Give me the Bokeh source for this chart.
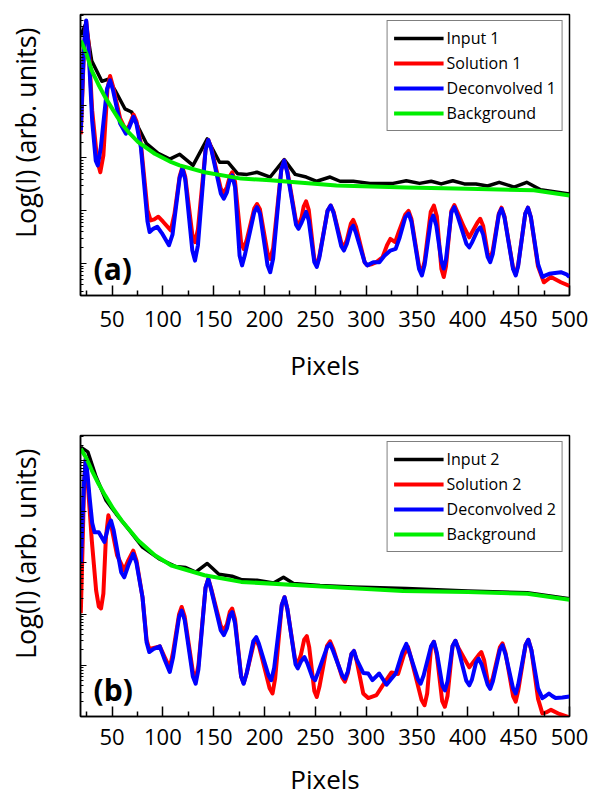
from bokeh.plotting import figure
from bokeh.layouts import column
from bokeh.models import (Range1d, FixedTicker, Label, Legend, LegendItem, Title,
                          CustomJSTickFormatter)
from bokeh.embed import file_html
from bokeh.resources import INLINE

FONT = "Open Sans"

# ---------------- axis ticks ----------------
x_major_ticks = [50, 100, 150, 200, 250, 300, 350, 400, 450, 500]
x_minor_ticks = [25, 75, 125, 175, 225, 275, 325, 375, 425, 475]
x_limits = (19, 500)

# ---------------- panel (a): log10 of intensity ----------------
input1_x = [19.3, 24.2, 30.0, 40.0, 46.4, 53.0, 62.7, 69.3, 75.8, 84.0, 95.4, 106.8, 116.6,
            129.7, 143.7, 155.8, 164.0, 173.7, 182.8, 192.6, 205.6, 219.4, 230.2, 241.0,
            251.4, 264.5, 274.3, 287.3, 303.6, 326.5, 339.5, 352.5, 364.0, 373.8, 385.2,
            396.6, 408.0, 419.4, 430.8, 445.5, 457.9, 471.6, 500.0]
input1_log = [5.32, 5.54, 4.84, 4.45, 4.49, 4.28, 3.93, 3.87, 3.58, 3.27, 3.09, 2.98, 3.07,
              2.86, 3.36, 2.92, 2.92, 2.70, 2.69, 2.73, 2.64, 2.97, 2.69, 2.64,
              2.56, 2.64, 2.56, 2.56, 2.52, 2.52, 2.57, 2.52, 2.56, 2.51, 2.57,
              2.51, 2.51, 2.47, 2.54, 2.45, 2.54, 2.40, 2.32]

solution1_x = [19.3, 21.0, 22.5, 24.6, 26.8, 30.5, 35.5, 38.5, 41.5, 45.5, 48.1, 51.0, 58.0,
               63.7, 67.0, 71.2, 74.0, 78.4, 84.9, 88.0, 91.5, 95.5, 100.0, 107.8, 111.5,
               116.5, 119.2, 122.0, 129.0, 131.6, 134.5, 142.0, 144.7, 147.5, 157.0, 160.0,
               163.0, 166.0, 168.2, 171.0, 177.0, 179.5, 182.5, 190.0, 192.6, 195.5, 203.0,
               205.6, 208.5, 216.5, 219.4, 222.5, 231.0, 233.4, 236.5, 238.5, 240.9, 243.5,
               249.0, 251.4, 254.0, 262.0, 265.1, 268.0, 275.5, 278.1, 281.0, 285.0, 287.3,
               290.0, 298.5, 301.0, 305.0, 310.0, 316.0, 320.5, 323.8, 328.5, 332.0, 338.5,
               341.7, 344.5, 352.0, 354.8, 357.5, 363.5, 366.6, 369.5, 374.0, 376.3, 378.5,
               383.8, 386.7, 390.0, 396.0, 401.4, 409.5, 412.2, 415.0, 419.5, 422.0, 424.5,
               430.5, 433.1, 436.0, 444.5, 447.1, 449.5, 456.5, 459.2, 462.0, 469.0, 474.8,
               481.8, 491.5, 500.0]
solution1_log = [3.45, 4.30, 5.10, 5.58, 5.20, 3.90, 2.95, 2.73, 3.05, 4.30, 4.55, 4.35, 3.75,
                 3.52, 3.62, 3.82, 3.70, 3.27, 2.01, 1.82, 1.84, 1.89, 1.80, 1.63, 1.95,
                 2.65, 2.83, 2.65, 1.55, 1.41, 1.65, 3.15, 3.34, 3.20, 2.42, 2.33,
                 2.45, 2.66, 2.73, 2.55, 1.40, 1.28, 1.45, 2.05, 2.13, 2.03, 1.20,
                 1.09, 1.30, 2.78, 2.95, 2.75, 1.80, 1.72, 1.88, 2.08, 2.18, 2.02,
                 1.08, 0.97, 1.15, 2.00, 2.10, 1.98, 1.40, 1.31, 1.45, 1.76, 1.83,
                 1.70, 1.03, 0.97, 0.99, 1.03, 1.12, 1.35, 1.47, 1.41, 1.60, 1.93,
                 2.00, 1.85, 0.95, 0.84, 1.05, 1.98, 2.10, 1.90, 0.90, 0.75, 0.95,
                 2.00, 2.11, 1.97, 1.70, 1.50, 1.78, 1.85, 1.72, 1.20, 1.09, 1.25,
                 1.95, 2.06, 1.90, 0.92, 0.80, 0.98, 1.95, 2.06, 1.88, 0.95, 0.65,
                 0.75, 0.65, 0.58]

deconv1_x = [19.3, 21.0, 22.5, 24.6, 26.8, 30.5, 34.0, 36.0, 39.0, 45.0, 48.1, 51.0, 58.0,
             63.7, 67.0, 71.2, 74.0, 78.4, 84.9, 87.0, 90.5, 94.5, 99.0, 106.0, 109.5,
             116.5, 119.2, 122.0, 129.0, 131.6, 134.5, 142.0, 144.7, 147.5, 157.0, 160.0,
             163.0, 166.0, 168.2, 171.0, 175.5, 177.9, 180.5, 190.0, 192.6, 195.5, 203.0,
             205.6, 208.5, 216.5, 219.4, 222.5, 231.0, 233.4, 236.5, 240.9, 243.5, 249.0,
             251.4, 254.0, 262.0, 265.1, 268.0, 275.5, 278.1, 281.0, 285.0, 287.3, 290.0,
             298.5, 301.0, 307.0, 313.0, 318.0, 323.8, 329.0, 333.0, 338.5, 341.7, 344.5,
             352.0, 354.8, 357.5, 363.5, 366.0, 369.0, 374.0, 376.3, 378.5, 383.8, 386.7,
             390.0, 398.5, 401.4, 404.0, 409.5, 412.2, 415.0, 419.5, 422.0, 424.5, 430.5,
             433.1, 436.0, 444.5, 447.1, 449.5, 456.5, 459.2, 462.0, 469.0, 473.3, 476.5,
             480.1, 491.5, 497.0, 500.0]
deconv1_log = [3.52, 4.40, 5.15, 5.60, 5.10, 3.70, 2.95, 2.86, 3.20, 4.30, 4.47, 4.28, 3.65,
               3.46, 3.58, 3.78, 3.65, 3.20, 1.80, 1.60, 1.66, 1.70, 1.58, 1.35, 1.55,
               2.62, 2.80, 2.60, 1.25, 1.06, 1.35, 3.15, 3.34, 3.18, 2.33, 2.23,
               2.35, 2.60, 2.67, 2.45, 1.15, 0.97, 1.15, 1.98, 2.07, 1.95, 0.97,
               0.84, 1.10, 2.78, 2.95, 2.72, 1.74, 1.66, 1.78, 1.98, 1.82, 1.03,
               0.94, 1.12, 2.00, 2.10, 1.96, 1.33, 1.25, 1.38, 1.66, 1.72, 1.58,
               1.03, 0.97, 1.03, 1.03, 1.15, 1.25, 1.28, 1.50, 1.88, 1.95, 1.80,
               0.90, 0.78, 0.98, 1.80, 1.91, 1.72, 1.05, 0.91, 1.08, 1.97, 2.07,
               1.90, 1.38, 1.31, 1.40, 1.63, 1.69, 1.56, 1.13, 1.03, 1.18, 1.93,
               2.04, 1.88, 0.90, 0.78, 0.96, 1.95, 2.06, 1.88, 1.00, 0.75, 0.78,
               0.81, 0.84, 0.80, 0.75]

background1_x = [19.3, 24.9, 30.1, 36.6, 43.2, 51.2, 59.4, 67.6, 75.8, 92.1, 108.4, 116.5,
                 141.0, 177.0, 205.6, 270.8, 339.5, 399.8, 465.0, 500.0]
background1_log = [5.22, 4.97, 4.65, 4.39, 4.15, 3.90, 3.65, 3.46, 3.30, 3.08, 2.92, 2.86,
                   2.73, 2.61, 2.58, 2.48, 2.44, 2.42, 2.39, 2.29]

# ---------------- panel (b) ----------------
input2_x = [19.3, 26.2, 34.4, 44.2, 54.0, 67.0, 80.0, 96.4, 112.7, 122.5, 132.3, 143.7,
            155.1, 168.1, 177.9, 192.6, 208.9, 218.7, 228.5, 254.6, 287.3, 339.5, 399.8,
            458.5, 500.0]
input2_log = [5.26, 5.17, 4.68, 4.22, 3.96, 3.64, 3.31, 3.08, 2.93, 2.91, 2.82, 2.99,
              2.78, 2.74, 2.67, 2.66, 2.61, 2.72, 2.60, 2.56, 2.53, 2.50, 2.45,
              2.42, 2.30]

solution2_x = [19.3, 21.0, 22.5, 24.2, 26.0, 30.1, 34.4, 37.0, 39.2, 41.5, 44.0, 46.4, 49.0,
               55.0, 62.0, 66.0, 70.9, 74.0, 80.0, 84.0, 86.6, 91.0, 97.0, 102.0, 106.8,
               110.0, 116.0, 118.5, 121.5, 129.5, 132.3, 135.0, 142.0, 144.7, 147.5, 157.0,
               160.0, 163.0, 166.0, 168.2, 171.0, 177.0, 179.5, 182.5, 189.5, 191.9, 194.5,
               205.0, 207.9, 210.5, 217.0, 219.7, 222.5, 230.0, 232.7, 235.5, 239.0, 241.6,
               244.0, 249.0, 251.4, 254.0, 261.5, 264.5, 267.5, 276.5, 279.1, 282.0, 285.5,
               288.0, 290.5, 297.1, 302.0, 310.2, 318.4, 324.9, 331.4, 337.0, 341.1, 344.0,
               354.5, 357.4, 360.0, 363.8, 366.6, 369.5, 374.8, 377.4, 380.0, 385.0, 387.8,
               390.5, 401.4, 410.5, 413.2, 416.0, 419.5, 422.0, 424.5, 431.5, 434.1, 437.0,
               444.5, 447.1, 449.5, 456.8, 459.5, 462.5, 469.0, 473.3, 477.0, 481.8, 490.0,
               500.0]
solution2_log = [2.02, 3.30, 4.50, 5.04, 4.60, 3.44, 2.46, 2.15, 2.11, 2.40, 3.50, 3.93, 3.75,
                 3.15, 2.86, 3.05, 3.24, 3.05, 2.33, 1.50, 1.32, 1.34, 1.37, 1.15, 0.95,
                 1.25, 2.00, 2.14, 1.95, 0.88, 0.74, 1.00, 2.52, 2.69, 2.50, 1.77,
                 1.68, 1.80, 2.05, 2.11, 1.90, 0.78, 0.65, 0.85, 1.43, 1.49, 1.38,
                 0.55, 0.45, 0.75, 2.18, 2.33, 2.10, 1.12, 1.04, 1.18, 1.50, 1.57,
                 1.35, 0.50, 0.38, 0.58, 1.38, 1.47, 1.33, 0.76, 0.68, 0.85, 1.22,
                 1.28, 1.10, 0.45, 0.36, 0.42, 0.67, 0.86, 0.83, 1.20, 1.36, 1.15,
                 0.32, 0.22, 0.45, 1.35, 1.46, 1.20, 0.30, 0.19, 0.40, 1.38, 1.48,
                 1.35, 0.96, 1.20, 1.26, 1.10, 0.70, 0.61, 0.75, 1.35, 1.43, 1.25,
                 0.40, 0.29, 0.50, 1.40, 1.50, 1.30, 0.35, 0.06, 0.08, 0.13, 0.05,
                 -0.02]

deconv2_x = [19.3, 21.0, 22.5, 24.2, 25.8, 27.9, 30.5, 32.8, 37.0, 42.5, 46.5, 49.0, 51.5,
             59.0, 62.0, 66.0, 70.9, 74.0, 80.0, 84.0, 86.6, 91.0, 97.0, 102.0, 106.8,
             110.0, 116.0, 118.5, 121.5, 129.5, 132.3, 135.0, 142.0, 144.7, 147.5, 157.0,
             160.0, 163.0, 166.0, 168.2, 171.0, 177.0, 179.5, 182.5, 189.0, 191.9, 194.5,
             204.0, 206.6, 209.5, 217.0, 219.7, 222.5, 230.5, 232.7, 236.0, 239.3, 242.0,
             247.0, 249.7, 252.5, 261.5, 264.5, 267.5, 276.5, 279.1, 282.0, 285.5, 288.0,
             290.5, 297.1, 302.0, 306.2, 312.8, 320.0, 324.0, 329.1, 335.5, 339.5, 342.5,
             351.0, 353.5, 356.5, 363.8, 366.6, 369.5, 375.0, 377.4, 380.0, 385.0, 387.8,
             390.5, 398.5, 401.4, 404.0, 408.0, 410.6, 413.5, 419.5, 422.0, 424.5, 431.5,
             434.1, 437.0, 444.5, 447.1, 449.5, 456.8, 459.5, 462.5, 469.0, 473.3, 476.5,
             479.8, 483.0, 486.3, 493.0, 500.0]
deconv2_log = [2.99, 3.80, 4.60, 5.04, 4.75, 4.29, 3.78, 3.60, 3.60, 3.41, 3.72, 3.83, 3.65,
               2.82, 2.72, 2.95, 3.18, 3.00, 2.33, 1.45, 1.26, 1.32, 1.37, 1.10, 0.87,
               1.15, 1.95, 2.07, 1.88, 0.78, 0.64, 0.92, 2.52, 2.69, 2.48, 1.68,
               1.59, 1.72, 1.98, 2.04, 1.82, 0.78, 0.64, 0.85, 1.47, 1.55, 1.42,
               0.80, 0.71, 0.95, 2.18, 2.33, 2.10, 1.02, 0.94, 1.08, 1.16, 1.05,
               0.77, 0.71, 0.85, 1.35, 1.42, 1.28, 0.80, 0.74, 0.88, 1.22, 1.28,
               1.12, 0.85, 0.84, 0.71, 0.84, 0.62, 0.72, 0.84, 1.25, 1.42, 1.25,
               0.72, 0.64, 0.80, 1.37, 1.46, 1.25, 0.60, 0.51, 0.68, 1.38, 1.48,
               1.33, 0.70, 0.61, 0.72, 1.05, 1.13, 1.02, 0.62, 0.54, 0.68, 1.30,
               1.39, 1.22, 0.55, 0.45, 0.62, 1.40, 1.50, 1.30, 0.55, 0.36, 0.40,
               0.45, 0.40, 0.36, 0.37, 0.39]

background2_x = [19.3, 24.9, 30.1, 36.6, 43.2, 51.2, 59.4, 75.8, 92.1, 108.4, 141.0, 177.0,
                 238.3, 336.1, 399.8, 458.5, 500.0]
background2_log = [5.23, 5.04, 4.81, 4.55, 4.32, 4.06, 3.83, 3.44, 3.15, 2.95, 2.76, 2.63,
                   2.56, 2.45, 2.43, 2.40, 2.28]

COLORS = {"input": "#000000", "solution": "#ff0000", "deconv": "#0000ff", "background": "#00ee00"}
WIDTHS = {"input": 3.5, "solution": 4, "deconv": 4, "background": 4}


def make_panel(series, labels, tag, y_log_limits, height, top, bottom,
               label_standoff, title_standoff):
    p = figure(width=593, height=height, x_range=Range1d(*x_limits),
               y_range=Range1d(10 ** y_log_limits[0], 10 ** y_log_limits[1]),
               y_axis_type="log", output_backend="svg", toolbar_location=None,
               min_border_left=78, min_border_right=24,
               min_border_top=top, min_border_bottom=bottom)
    p.grid.visible = False
    p.outline_line_color = "black"
    p.outline_line_width = 1.5
    p.background_fill_color = "white"
    p.border_fill_color = "white"

    xa = p.xaxis[0]
    xa.ticker = FixedTicker(ticks=x_major_ticks, minor_ticks=x_minor_ticks)
    xa.major_tick_in = 10
    xa.major_tick_out = 0
    xa.minor_tick_in = 5
    xa.minor_tick_out = 0
    xa.axis_line_width = 1.5
    xa.major_tick_line_width = 1.5
    xa.minor_tick_line_width = 1.5
    xa.major_label_text_font = FONT
    xa.major_label_text_font_size = "22px"
    xa.major_label_text_color = "black"
    xa.major_label_standoff = label_standoff
    xa.axis_label = "Pixels"
    xa.axis_label_text_font = FONT
    xa.axis_label_text_font_size = "26px"
    xa.axis_label_text_font_style = "normal"
    xa.axis_label_text_color = "black"
    xa.axis_label_standoff = title_standoff

    ya = p.yaxis[0]
    ya.ticker = FixedTicker(ticks=[10.0 ** k for k in range(0, 7)],
                            minor_ticks=[m * 10.0 ** k for k in range(-1, 7) for m in range(2, 10)])
    ya.formatter = CustomJSTickFormatter(code="return ''")
    ya.major_label_text_font_size = "0px"
    ya.major_tick_in = 6
    ya.major_tick_out = 0
    ya.minor_tick_in = 3
    ya.minor_tick_out = 0
    ya.axis_line_width = 1.5
    ya.major_tick_line_width = 1.2
    ya.minor_tick_line_width = 1.0
    # blank axis label used only as a spacer so the title below sits at the page edge
    ya.axis_label = " "
    ya.axis_label_text_font_size = "1px"
    ya.axis_label_standoff = 27

    p.add_layout(Title(text="Log(I) (arb. units)", align="right", offset=13,
                       vertical_align="middle", standoff=10, text_font=FONT,
                       text_font_size="27px", text_font_style="normal",
                       text_color="black"), "left")

    items = []
    for (xs, logs, key), lab in zip(series, labels):
        ys = [10.0 ** v for v in logs]
        r = p.line(xs, ys, line_color=COLORS[key], line_width=WIDTHS[key], line_join="round")
        items.append(LegendItem(label=lab, renderers=[r]))

    legend = Legend(items=items, location="top_right")
    legend.margin = 6
    legend.padding = 6
    legend.spacing = 3
    legend.glyph_width = 50
    legend.glyph_height = 20
    legend.label_height = 20
    legend.label_standoff = 3
    legend.label_text_font = FONT
    legend.label_text_font_size = "16px"
    legend.label_text_color = "black"
    legend.border_line_color = "black"
    legend.border_line_width = 1.5
    legend.background_fill_alpha = 1.0
    p.add_layout(legend)

    p.add_layout(Label(x=13, y=27, x_units="screen", y_units="screen", text=tag,
                       text_align="left", text_baseline="middle", text_font=FONT,
                       text_font_size="30px", text_font_style="bold", text_color="black"))
    return p


p1 = make_panel(
    [(input1_x, input1_log, "input"), (solution1_x, solution1_log, "solution"),
     (deconv1_x, deconv1_log, "deconv"), (background1_x, background1_log, "background")],
    ["Input 1", "Solution 1", "Deconvolved 1", "Background"], "(a)",
    (0.40, 5.713), 420, 14, 125, 15, 17)

p2 = make_panel(
    [(input2_x, input2_log, "input"), (solution2_x, solution2_log, "solution"),
     (deconv2_x, deconv2_log, "deconv"), (background2_x, background2_log, "background")],
    ["Input 2", "Solution 2", "Deconvolved 2", "Background"], "(b)",
    (0.0, 5.49), 382, 15, 86, 12, 13)

layout = column(p1, p2, spacing=0)
open("out.html", "w").write(file_html(layout, INLINE))
